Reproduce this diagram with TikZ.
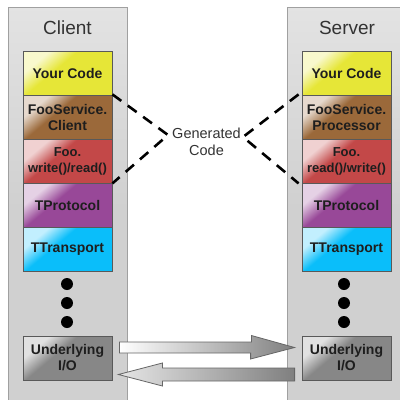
\documentclass[tikz,border=0pt]{standalone}
\usepackage{fontspec}
\setmainfont{Liberation Sans}
\usetikzlibrary{calc}
\definecolor{cyel}{RGB}{230,230,55}
\definecolor{cbrn}{RGB}{155,105,58}
\definecolor{cred}{RGB}{195,72,72}
\definecolor{cpur}{RGB}{152,72,152}
\definecolor{ccya}{RGB}{10,190,250}
\definecolor{cgio}{RGB}{135,135,135}
\definecolor{colfill}{RGB}{208,208,208}
\definecolor{colborder}{RGB}{160,160,160}
\definecolor{txt}{RGB}{30,30,30}
\colorlet{hlA}{white}
\colorlet{hlB}{gray}
\pgfdeclareverticalshading[hlA,hlB]{hlshade}{100bp}{color(0bp)=(hlB); color(58bp)=(hlB); color(72bp)=(hlA); color(100bp)=(hlA)}
\tikzset{
  column/.style={draw=colborder, line width=0.8pt, top color=colfill!60!white, bottom color=colfill, middle color=colfill},
  layer/.style={draw=black!65, line width=0.8pt, minimum width=89pt, minimum height=44pt, inner sep=0pt,
    align=center, text=txt, font=\bfseries\fontsize{14}{16}\selectfont,
    /utils/exec={\colorlet{hlB}{#1}\colorlet{hlA}{#1!25!white}}, shade, shading=hlshade, shading angle=40},
  smalltxt/.style={font=\bfseries\fontsize{13}{16}\selectfont},
  title/.style={text=black!80, font=\fontsize{19}{21}\selectfont, inner sep=0pt},
  dotnode/.style={circle, fill=black, minimum size=12pt, inner sep=0pt},
  gen/.style={draw=black, line width=2.6pt, dash pattern=on 11pt off 8pt},
  blockarrow/.style={draw=black!60, line width=0.8pt, left color=#1, right color=black!50},
}
\begin{document}
\begin{tikzpicture}[x=1pt,y=-1pt]
\useasboundingbox (0,0) rectangle (400,400);
% columns
\path[column] (8,7) rectangle (127,410);
\path[column] (287,7) rectangle (406,410);
\node[title] (ctitle) at (67.5,27.5) {Client};
\node[title] (stitle) at (347,28) {Server};
% client layers
\node[layer=cyel] (cyc) at (67.5,73) {Your Code};
\node[layer=cbrn] (cfs) at (67.5,117) {FooService.\\Client};
\node[layer=cred, smalltxt] (cfoo) at (67.5,161) {Foo.\\write()/read()};
\node[layer=cpur] (cpr) at (67.5,205) {TProtocol};
\node[layer=ccya] (ctr) at (67.5,249) {TTransport};
\node[dotnode] (cd1) at (67,284) {};
\node[dotnode] (cd2) at (67,303) {};
\node[dotnode] (cd3) at (67,322) {};
\node[layer=cgio] (cio) at (67.5,358) {Underlying\\I/O};
% server layers
\node[layer=cyel] (syc) at (346.5,73) {Your Code};
\node[layer=cbrn] (sfs) at (346.5,117) {FooService.\\Processor};
\node[layer=cred, smalltxt] (sfoo) at (346.5,161) {Foo.\\read()/write()};
\node[layer=cpur] (spr) at (346.5,205) {TProtocol};
\node[layer=ccya] (str) at (346.5,249) {TTransport};
\node[dotnode] (sd1) at (344,284) {};
\node[dotnode] (sd2) at (344,303) {};
\node[dotnode] (sd3) at (344,322) {};
\node[layer=cgio] (sio) at (346.5,358) {Underlying\\I/O};
% generated code
\node[align=center, text=black!80, font=\fontsize{14.5}{17}\selectfont, inner sep=0pt] (gc) at (206.5,141.5) {Generated\\Code};
\coordinate (gl) at (168,135);
\coordinate (gr) at (243,137);
\draw[gen] ($(cyc.south east)+(0,-1)$) -- (gl) -- (cfoo.south east);
\draw[gen] ($(syc.south west)+(-3,-1)$) -- (gr) -- ($(sfoo.south west)+(-3,0)$);
% arrows
\coordinate (a1) at ($(cio.east)+(7,-10.5)$);
\coordinate (a2) at ($(sio.west)+(-7,-10.5)$);
\path[blockarrow=white] (a1) ++(0,-5.5) -- ++(132,0) -- ++(0,-6.5) -- (a2) -- ($(a2)+(-44,11.5)$) -- ++(0,-6) -- ($(a1)+(0,5.5)$) -- cycle;
\coordinate (b1) at ($(cio.east)+(6,16.5)$);
\coordinate (b2) at ($(sio.west)+(-7,16.5)$);
\path[blockarrow=black!10] (b1) -- ++(44,-11.5) -- ++(0,5) -- ($(b2)+(0,-6.5)$) -- ($(b2)+(0,6.5)$) -- ($(b1)+(44,6.5)$) -- ++(0,5) -- cycle;
\end{tikzpicture}
\end{document}
